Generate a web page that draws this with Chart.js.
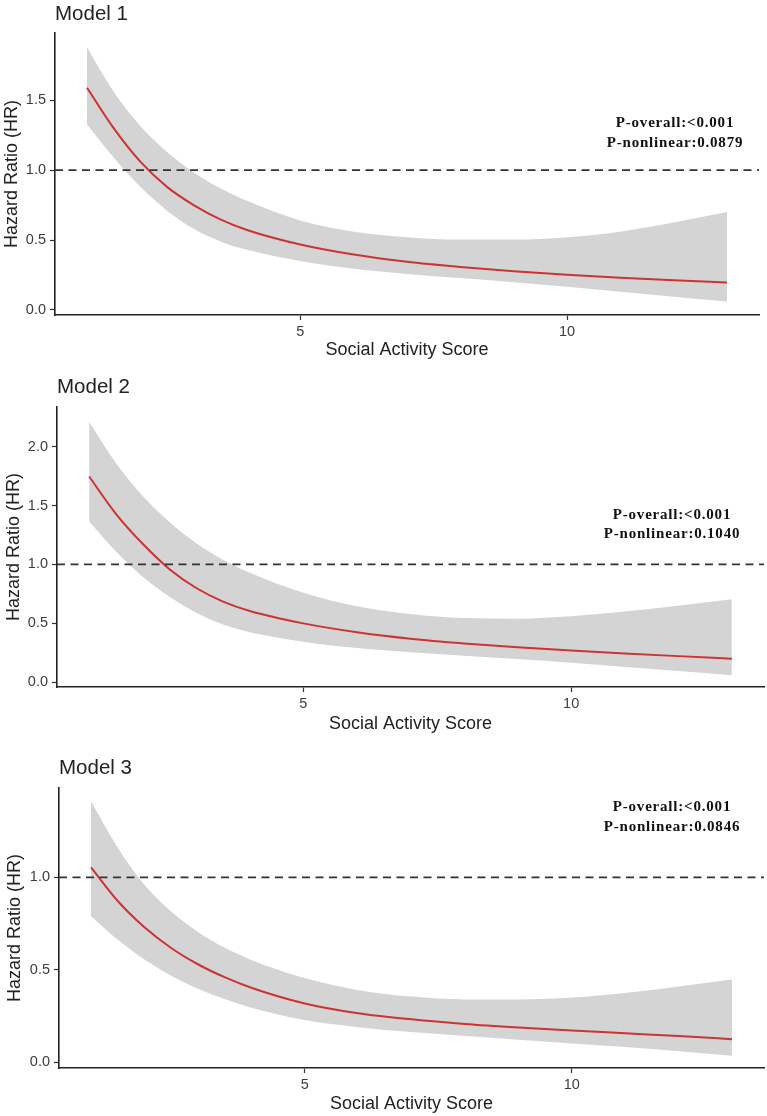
<!DOCTYPE html>
<html>
<head>
<meta charset="utf-8">
<script src="https://cdn.jsdelivr.net/npm/chart.js@4.4.1/dist/chart.umd.min.js"></script>
<style>
  html, body { margin: 0; padding: 0; background: #fff; }
  .panel { position: absolute; left: 0; width: 767px; height: 372px; }
</style>
</head>
<body>
<div class="panel" style="top:0"><canvas id="m1" width="767" height="372"></canvas></div>
<div class="panel" style="top:372px"><canvas id="m2" width="767" height="372"></canvas></div>
<div class="panel" style="top:744px"><canvas id="m3" width="767" height="372"></canvas></div>
<script>
// DATA
const scores = [1, 1.5, 2, 2.5, 3, 3.5, 4, 5, 6, 7, 8, 9, 10, 11, 12, 13];
const xTicks = [5, 10];

// Model 1
const hr1 = [1.589, 1.30, 1.06, 0.88, 0.75, 0.648, 0.572, 0.468, 0.396, 0.344, 0.307, 0.277, 0.252, 0.231, 0.213, 0.197];
const up1 = [1.876, 1.56, 1.315, 1.13, 0.985, 0.87, 0.78, 0.64, 0.56, 0.52, 0.503, 0.503, 0.52, 0.56, 0.625, 0.70];
const lo1 = [1.326, 1.09, 0.88, 0.71, 0.58, 0.49, 0.43, 0.35, 0.295, 0.258, 0.228, 0.198, 0.166, 0.13, 0.095, 0.06];
const yTicks1 = [0, 0.5, 1, 1.5];
const pText1 = ['P-overall:<0.001', 'P-nonlinear:0.0879'];

// Model 2
const hr2 = [1.746, 1.43, 1.175, 0.96, 0.80, 0.685, 0.605, 0.50, 0.425, 0.37, 0.33, 0.298, 0.27, 0.245, 0.222, 0.20];
const up2 = [2.21, 1.86, 1.58, 1.36, 1.18, 1.04, 0.93, 0.76, 0.645, 0.58, 0.545, 0.54, 0.56, 0.60, 0.65, 0.705];
const lo2 = [1.364, 1.11, 0.895, 0.725, 0.59, 0.49, 0.425, 0.345, 0.29, 0.255, 0.226, 0.197, 0.165, 0.13, 0.095, 0.06];
const yTicks2 = [0, 0.5, 1, 1.5, 2];
const pText2 = ['P-overall:<0.001', 'P-nonlinear:0.1040'];

// Model 3
const hr3 = [1.054, 0.872, 0.73, 0.618, 0.53, 0.46, 0.403, 0.318, 0.265, 0.232, 0.207, 0.188, 0.172, 0.157, 0.142, 0.125];
const up3 = [1.41, 1.16, 0.96, 0.815, 0.705, 0.62, 0.553, 0.455, 0.39, 0.355, 0.34, 0.34, 0.35, 0.375, 0.41, 0.448];
const lo3 = [0.789, 0.662, 0.555, 0.468, 0.398, 0.342, 0.295, 0.228, 0.19, 0.163, 0.142, 0.122, 0.102, 0.082, 0.06, 0.035];
const yTicks3 = [0, 0.5, 1];
const pText3 = ['P-overall:<0.001', 'P-nonlinear:0.0846'];

Chart.defaults.font.family = '"Liberation Sans", Arial, sans-serif';

// reference line + p-value text
const overlay = {
  id: 'overlay',
  afterDatasetsDraw(chart, args, o) {
    const { ctx, chartArea: a, scales: { y } } = chart;
    const yRef = y.getPixelForValue(1);
    ctx.save();
    ctx.strokeStyle = '#333';
    ctx.lineWidth = 1.8;
    ctx.setLineDash([8, 5.5]);
    ctx.beginPath();
    ctx.moveTo(a.left, yRef);
    ctx.lineTo(a.right, yRef);
    ctx.stroke();
    ctx.restore();
  },
  afterDraw(chart, args, o) {
    const { ctx } = chart;
    ctx.save();
    ctx.font = 'bold 15px "Liberation Serif", "Times New Roman", serif';
    ctx.letterSpacing = '0.8px';
    ctx.fillStyle = '#111';
    ctx.textAlign = 'center';
    ctx.textBaseline = 'middle';
    o.lines.forEach((t, i) => ctx.fillText(t, o.x, o.y[i]));
    ctx.restore();
  }
};

function makePanel(id, title, hr, up, lo, yTicks, pText, L) {
  const pts = arr => scores.map((x, i) => ({ x, y: arr[i] }));
  const smooth = { pointRadius: 0, cubicInterpolationMode: 'monotone' };
  new Chart(document.getElementById(id), {
    type: 'line',
    data: {
      datasets: [
        { label: 'HR', data: pts(hr), borderColor: '#cc3333', borderWidth: 2, fill: false, ...smooth },
        { label: 'upper', data: pts(up), borderColor: 'transparent', borderWidth: 0, backgroundColor: '#d4d4d4', fill: '+1', ...smooth },
        { label: 'lower', data: pts(lo), borderColor: 'transparent', borderWidth: 0, fill: false, ...smooth }
      ]
    },
    options: {
      responsive: false,
      animation: false,
      events: [],
      layout: { padding: { left: 0, right: L.right, top: 0, bottom: 0 } },
      scales: {
        x: {
          type: 'linear', min: 0.4, max: 13.6,
          afterBuildTicks: s => { s.ticks = xTicks.map(v => ({ value: v })); },
          afterFit: s => { s.height = L.xH; },
          grid: { drawOnChartArea: false, tickLength: 5, color: '#333', tickWidth: 1.2 },
          border: { color: '#222', width: 1.6 },
          ticks: { color: '#3d3d3d', font: { size: 14.5 }, padding: 3, maxRotation: 0, callback: v => String(v) },
          title: { display: true, text: 'Social Activity Score', color: '#222', font: { size: 18 }, padding: { top: 0, bottom: L.xTitlePad } }
        },
        y: {
          min: L.yMin, max: L.yMax,
          afterBuildTicks: s => { s.ticks = yTicks.map(v => ({ value: v })); },
          afterFit: s => { s.width = L.left; },
          grid: { drawOnChartArea: false, tickLength: 5, color: '#333', tickWidth: 1.2 },
          border: { color: '#222', width: 1.6 },
          ticks: { color: '#3d3d3d', font: { size: 14.5 }, padding: 4, callback: v => v.toFixed(1) },
          title: { display: true, text: 'Hazard Ratio (HR)', color: '#222', font: { size: 18 }, padding: { top: L.yTitlePad, bottom: 0 } }
        }
      },
      plugins: {
        legend: { display: false },
        tooltip: { enabled: false },
        filler: { drawTime: 'beforeDatasetsDraw' },
        title: {
          display: true, text: title, align: 'start', fullSize: false, color: '#222',
          font: { size: 20.5, weight: 'normal' },
          padding: { top: L.titleTop, bottom: L.titleBottom }
        },
        overlay: { lines: pText, x: L.px, y: L.py }
      }
    },
    plugins: [overlay]
  });
}

makePanel('m1', 'Model 1', hr1, up1, lo1, yTicks1, pText1,
  { left: 55, right: 8, xH: 57, xTitlePad: 11, yTitlePad: 1.5, titleTop: 2, titleBottom: 6.4,
    yMin: -0.036, yMax: 1.98, px: 675, py: [123, 143] });
makePanel('m2', 'Model 2', hr2, up2, lo2, yTicks2, pText2,
  { left: 57, right: 3, xH: 57, xTitlePad: 9.2, yTitlePad: 3, titleTop: 3, titleBottom: 7.4,
    yMin: -0.04, yMax: 2.336, px: 672, py: [143, 162] });
makePanel('m3', 'Model 3', hr3, up3, lo3, yTicks3, pText3,
  { left: 59, right: 3, xH: 48, xTitlePad: 1, yTitlePad: 4.5, titleTop: 12, titleBottom: 7.4,
    yMin: -0.031, yMax: 1.483, px: 672, py: [63, 83] });
</script>
</body>
</html>
